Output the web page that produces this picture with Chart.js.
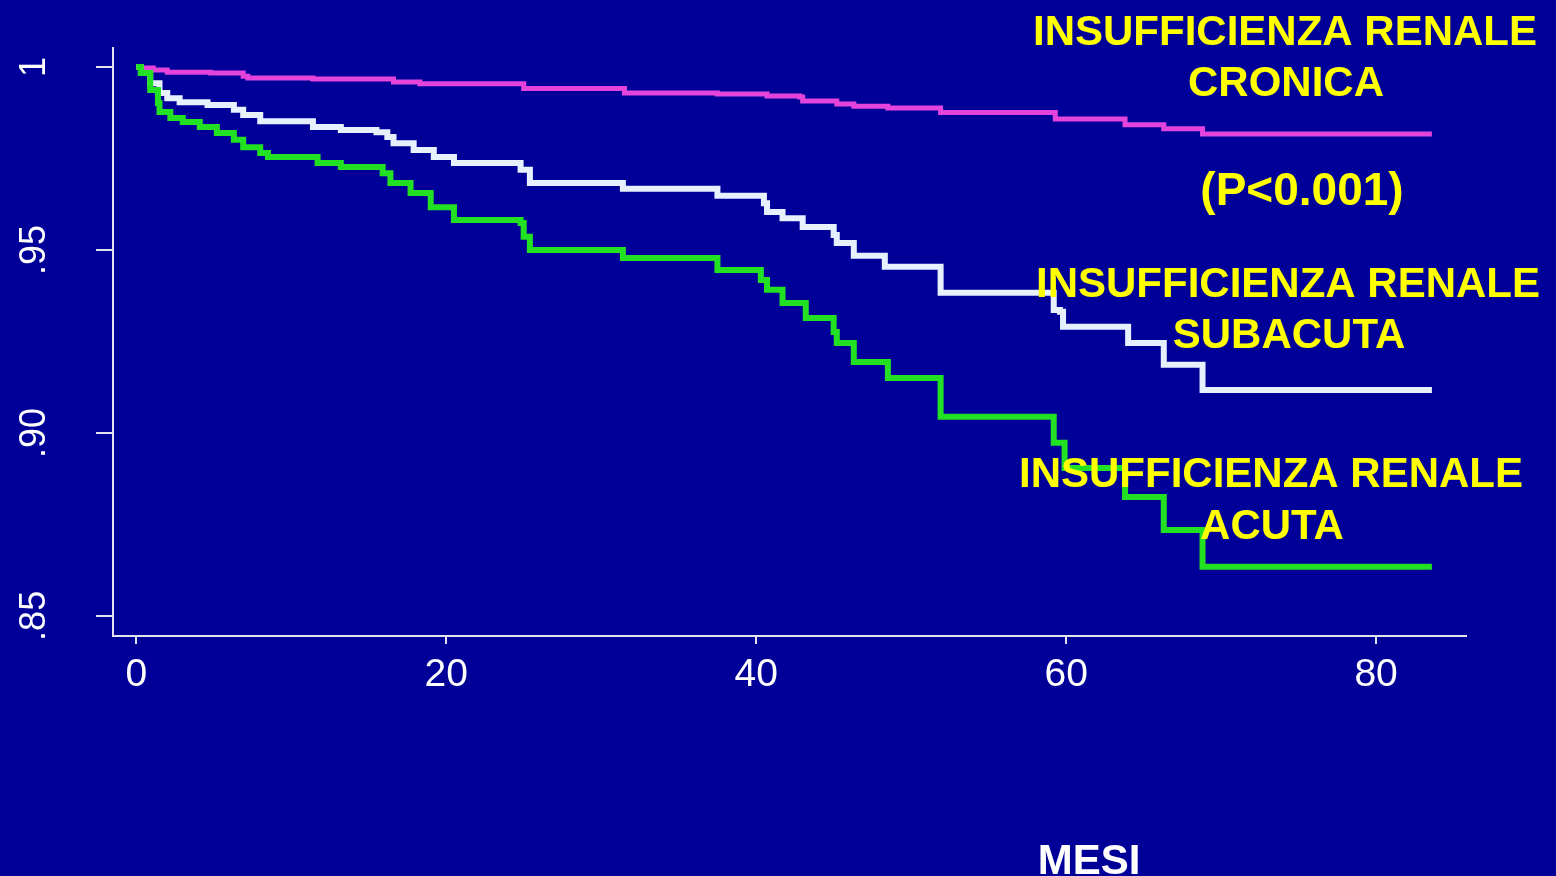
<!DOCTYPE html>
<html>
<head>
<meta charset="utf-8">
<title>Sopravvivenza - insufficienza renale</title>
<script src="https://cdn.jsdelivr.net/npm/chart.js@4.4.1/dist/chart.umd.min.js"></script>
<style>
  html, body { margin: 0; padding: 0; background: #000099; overflow: hidden; }
  #wrap { width: 1556px; height: 876px; }
</style>
</head>
<body>
<div id="wrap"><canvas id="km" width="1556" height="876"></canvas></div>
<script>
// tick values / labels
const xTickValues = [0, 20, 40, 60, 80];
const yTickValues = [0.85, 0.90, 0.95, 1];
const yTickLabels = [".85", ".90", ".95", "1"];

// Kaplan-Meier curves (mesi, sopravvivenza)
const cronicaT = [0, 0.3, 1.1, 2.0, 4.8, 6.9, 7.2, 11.4, 16.6, 18.3, 25.0, 31.5, 37.5, 40.7, 42.8, 43.0, 45.2, 46.3, 48.5, 51.9, 59.3, 63.8, 66.3, 68.8, 83.6];
const cronicaS = [1, .9997, .9992, .9986, .9984, .9975, .9970, .9967, .9959, .9954, .9941, .9929, .9926, .9921, .9918, .9907, .9899, .9893, .9888, .9876, .9858, .9842, .9831, .9817, .9817];

const subacutaT = [0, 0.3, 0.9, 1.5, 2.0, 2.8, 4.6, 6.3, 6.9, 8.0, 11.4, 13.2, 15.5, 16.2, 16.6, 17.9, 19.2, 20.5, 24.8, 25.4, 31.4, 37.5, 40.5, 40.7, 41.7, 43.0, 45.0, 45.2, 46.3, 48.3, 51.9, 59.2, 59.6, 59.8, 64.0, 66.3, 68.8, 83.6];
const subacutaS = [1, .9984, .9956, .9929, .9915, .9904, .9896, .9883, .9869, .9852, .9836, .9828, .9822, .9809, .9792, .9773, .9754, .9738, .9719, .9683, .9667, .9648, .9628, .9604, .9587, .9563, .9541, .9519, .9484, .9454, .9383, .9336, .9331, .9290, .9246, .9186, .9117, .9117];

const acutaT = [0, 0.3, 0.9, 1.4, 1.5, 2.2, 3.0, 4.1, 5.2, 6.3, 6.9, 8.0, 8.5, 11.7, 13.2, 15.9, 16.4, 17.7, 19.0, 20.5, 24.8, 25.0, 25.4, 31.4, 37.5, 40.3, 40.7, 41.7, 43.2, 45.0, 45.2, 46.3, 48.5, 51.9, 59.2, 59.9, 63.8, 66.3, 68.8, 83.6];
const acutaS = [1, .9984, .9937, .9902, .9877, .9861, .9850, .9836, .9820, .9801, .9781, .9765, .9754, .9738, .9727, .9710, .9683, .9656, .9617, .9582, .9574, .9536, .9500, .9478, .9445, .9418, .9391, .9355, .9314, .9276, .9246, .9194, .9150, .9044, .8973, .8904, .8825, .8735, .8634, .8634];

const AXIS = "#E2E2EC";
const YELLOW = "#FFFF00";

const pts = (t, s) => t.map((v, i) => ({ x: v, y: s[i] }));

function curve(t, s, color, w) {
  return {
    data: pts(t, s),
    borderColor: color,
    backgroundColor: color,
    borderWidth: w,
    pointRadius: 0,
    stepped: "before",
    fill: false,
  };
}

// annotations and rotated y labels (R style)
const textPlugin = {
  id: "kmText",
  afterDraw(chart) {
    const ctx = chart.ctx;
    const y = chart.scales.y;
    ctx.save();
    ctx.fillStyle = "#FFFFFF";
    ctx.font = "36px 'Liberation Sans', Arial, sans-serif";
    ctx.textAlign = "center";
    ctx.textBaseline = "alphabetic";
    yTickValues.forEach((v, i) => {
      ctx.save();
      ctx.translate(45, y.getPixelForValue(v));
      ctx.rotate(-Math.PI / 2);
      ctx.fillText(yTickLabels[i], 0, 0);
      ctx.restore();
    });

    const bold = sz => `bold ${sz}px 'Liberation Sans', Arial, sans-serif`;
    ctx.fillStyle = YELLOW;
    ctx.font = bold(42);
    ctx.fillText("INSUFFICIENZA RENALE", 1285, 45);
    ctx.fillText("CRONICA", 1286, 96);
    ctx.fillText("INSUFFICIENZA RENALE", 1288, 297);
    ctx.fillText("SUBACUTA", 1289, 348);
    ctx.fillText("INSUFFICIENZA RENALE", 1271, 487);
    ctx.fillText("ACUTA", 1272, 539);
    ctx.font = bold(46);
    ctx.fillText("(P<0.001)", 1302, 205);

    ctx.fillStyle = "#FFFFFF";
    ctx.font = bold(42);
    ctx.fillText("MESI", 1089, 874);
    ctx.restore();
  },
};

new Chart(document.getElementById("km"), {
  type: "line",
  data: {
    datasets: [
      curve(acutaT, acutaS, "#22E022", 6),
      curve(subacutaT, subacutaS, "#E6F0FF", 6),
      curve(cronicaT, cronicaS, "#E444DC", 5),
    ],
  },
  options: {
    responsive: false,
    animation: false,
    devicePixelRatio: 1,
    layout: { padding: { top: 48, right: 90, bottom: 180, left: 0 } },
    plugins: { legend: { display: false }, tooltip: { enabled: false } },
    scales: {
      x: {
        type: "linear",
        min: -1.5,
        max: 85.8,
        afterBuildTicks: s => { s.ticks = xTickValues.map(v => ({ value: v })); },
        afterFit: s => { s.height = 60; },
        grid: { drawOnChartArea: false, drawTicks: true, tickLength: 8, color: AXIS, lineWidth: 2 },
        border: { display: true, color: AXIS, width: 2 },
        ticks: {
          color: "#FFFFFF",
          font: { family: "'Liberation Sans', Arial, sans-serif", size: 39 },
          padding: 8,
          maxRotation: 0,
          autoSkip: false,
        },
      },
      y: {
        type: "linear",
        min: 0.8445,
        max: 1.0052,
        afterBuildTicks: s => { s.ticks = yTickValues.map(v => ({ value: v })); },
        afterFit: s => { s.width = 113; },
        grid: { drawOnChartArea: false, drawTicks: true, tickLength: 17, color: AXIS, lineWidth: 2 },
        border: { display: true, color: AXIS, width: 2 },
        ticks: { display: false },
      },
    },
  },
  plugins: [textPlugin],
});
</script>
</body>
</html>
